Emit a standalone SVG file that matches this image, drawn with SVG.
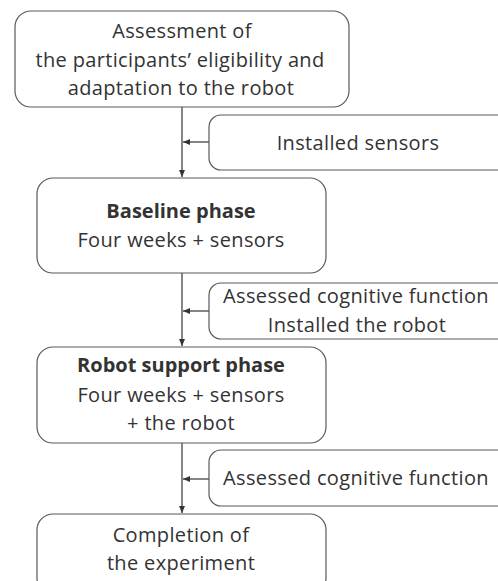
<svg xmlns="http://www.w3.org/2000/svg" width="498" height="581" viewBox="0 0 498 581">
<style>
.box{fill:#fff;stroke:#595959;stroke-width:1.2}
.t{font-family:"Open Sans","Noto Sans",sans-serif;font-size:20px;letter-spacing:0.35px;fill:#333;text-anchor:middle}
.b{font-weight:bold;letter-spacing:0px}
.c{stroke:#333;stroke-width:1.2;fill:none}
</style>
<defs>
<marker id="ah" markerWidth="8" markerHeight="8" refX="7" refY="4" orient="auto" markerUnits="userSpaceOnUse">
<path d="M0,1 L7,4 L0,7 Z" fill="#333"/>
</marker>
</defs>
<rect width="498" height="581" fill="#fff"/>
<g id="connectors">
<line class="c" x1="182" y1="107" x2="182" y2="177" marker-end="url(#ah)"/>
<line class="c" x1="209" y1="142" x2="183" y2="142" marker-end="url(#ah)"/>
<line class="c" x1="182" y1="273" x2="182" y2="346" marker-end="url(#ah)"/>
<line class="c" x1="209" y1="311" x2="183" y2="311" marker-end="url(#ah)"/>
<line class="c" x1="182" y1="443" x2="182" y2="513" marker-end="url(#ah)"/>
<line class="c" x1="209" y1="479" x2="183" y2="479" marker-end="url(#ah)"/>
</g>
<g id="n1">
<rect class="box" x="15" y="11" width="334" height="96" rx="16"/>
<text class="t" x="182" y="38">Assessment of</text>
<text class="t" x="180" y="67">the participants’ eligibility and</text>
<text class="t" x="181" y="95">adaptation to the robot</text>
</g>
<g id="s1">
<rect class="box" x="209" y="115" width="310" height="55" rx="12"/>
<text class="t" x="358" y="150">Installed sensors</text>
</g>
<g id="n2">
<rect class="box" x="37" y="178" width="289" height="95" rx="16"/>
<text class="t b" x="181" y="218">Baseline phase</text>
<text class="t" x="181" y="247">Four weeks + sensors</text>
</g>
<g id="s2">
<rect class="box" x="209" y="283" width="310" height="56" rx="12"/>
<text class="t" x="356" y="303">Assessed cognitive function</text>
<text class="t" x="357" y="332">Installed the robot</text>
</g>
<g id="n3">
<rect class="box" x="37" y="347" width="289" height="96" rx="16"/>
<text class="t b" x="181" y="372">Robot support phase</text>
<text class="t" x="181" y="402">Four weeks + sensors</text>
<text class="t" x="181" y="430">+ the robot</text>
</g>
<g id="s3">
<rect class="box" x="209" y="450" width="310" height="56" rx="12"/>
<text class="t" x="356" y="485">Assessed cognitive function</text>
</g>
<g id="n4">
<rect class="box" x="37" y="514" width="289" height="80" rx="16"/>
<text class="t" x="181" y="542">Completion of</text>
<text class="t" x="181" y="570">the experiment</text>
</g>
</svg>
